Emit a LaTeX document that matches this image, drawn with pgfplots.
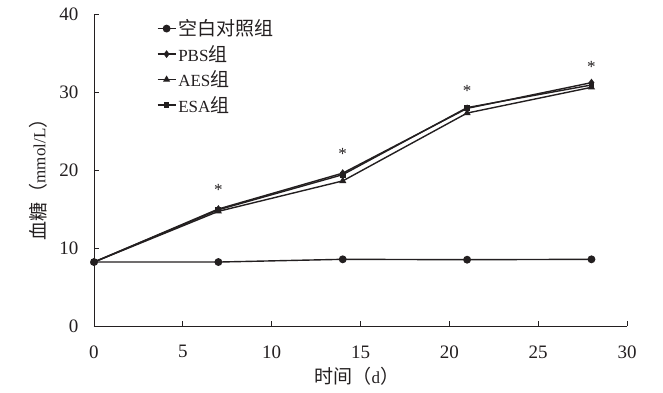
\documentclass[border=0pt]{standalone}
\usepackage{fontspec}
\setmainfont{Liberation Serif}
\newfontfamily\cjk[Scale=1.12]{Noto Sans CJK SC}
\usepackage{pgfplots}
\pgfplotsset{compat=1.18}
\definecolor{ink}{HTML}{231F20}
\begin{document}
\begin{tikzpicture}
\path[use as bounding box] (-94pt,-66pt) rectangle (569pt,326pt);
\begin{axis}[
  scale only axis,
  width=533pt, height=312pt,
  xmin=0, xmax=30, ymin=0, ymax=40,
  xtick={0,5,...,30}, ytick={0,10,...,40},
  axis x line*=bottom, axis y line*=left,
  axis line style={ink, line width=0.8pt},
  tick style={ink, line width=0.8pt},
  tick align=inside,
  major tick length=5pt,
  /pgf/number format/assume math mode=true,
  tick label style={font=\fontsize{19}{21}\selectfont, text=ink},
  xticklabel style={yshift=-16pt},
  yticklabel style={xshift=-12pt},
  xlabel={{\cjk 时间（}d{\cjk ）}},
  ylabel={{\cjk 血糖（}mmol/L{\cjk ）}},
  label style={font=\fontsize{17}{19}\selectfont, text=ink},
  xlabel style={at={(axis description cs:0.493,-0.160)}, anchor=center},
  ylabel style={at={(axis description cs:-0.105,0.484)}, anchor=center},
  legend style={draw=none, fill=none, at={(0.112,0.995)}, anchor=north west,
    font=\fontsize{17}{19}\selectfont, text=ink, row sep=4pt,
    legend cell align=left},
  legend image code/.code={\draw[#1] (0pt,0pt) -- (18pt,0pt); \draw[#1, mark repeat=1] plot coordinates {(9pt,0pt)};},
  every axis plot/.append style={ink, line width=1.4pt, mark options={solid, fill=ink}},
]
\addplot[mark=*, mark size=3.2pt] coordinates {(0,8.2) (7,8.2) (14,8.55) (21,8.5) (28,8.55)};
\addlegendentry{{\cjk 空白对照组}}
\addplot[mark=diamond*, mark size=2.8pt] coordinates {(0,8.2) (7,15.0) (14,19.6) (21,27.9) (28,31.2)};
\addlegendentry{PBS{\cjk 组}}
\addplot[mark=triangle*, mark size=2.8pt] coordinates {(0,8.2) (7,14.7) (14,18.6) (21,27.3) (28,30.6)};
\addlegendentry{AES{\cjk 组}}
\addplot[mark=square*, mark size=2.2pt] coordinates {(0,8.2) (7,14.9) (14,19.4) (21,28.0) (28,30.9)};
\addlegendentry{ESA{\cjk 组}}
\node[font=\fontsize{17}{19}\selectfont, text=ink] at (axis cs:7,17.5) {*};
\node[font=\fontsize{17}{19}\selectfont, text=ink] at (axis cs:14,22.0) {*};
\node[font=\fontsize{17}{19}\selectfont, text=ink] at (axis cs:21,30.1) {*};
\node[font=\fontsize{17}{19}\selectfont, text=ink] at (axis cs:28,33.2) {*};
\end{axis}
\end{tikzpicture}
\end{document}
